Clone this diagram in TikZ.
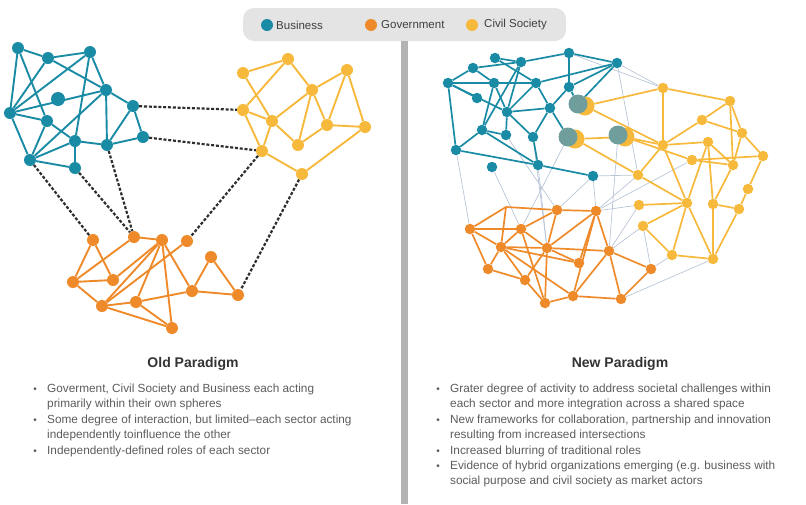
\documentclass[tikz,border=0pt]{standalone}
\usepackage{fontspec}
\setmainfont{Liberation Sans}
\usetikzlibrary{backgrounds}

\definecolor{busc}{HTML}{1A8BA5}
\definecolor{govc}{HTML}{EF8A2B}
\definecolor{civc}{HTML}{F6B93B}
\definecolor{hybc}{HTML}{6F9E9C}
\definecolor{linkc}{HTML}{2E2E2E}
\definecolor{faintc}{HTML}{BAC6D8}
\definecolor{barc}{HTML}{B3B3B3}
\definecolor{legc}{HTML}{E4E4E4}
\definecolor{textc}{HTML}{5C5C5C}

\tikzset{
  bus/.style={circle,fill=busc,inner sep=0pt,minimum size=12pt},
  gov/.style={circle,fill=govc,inner sep=0pt,minimum size=12pt},
  civ/.style={circle,fill=civc,inner sep=0pt,minimum size=12pt},
  hyb/.style={circle,fill=hybc,inner sep=0pt,minimum size=19pt},
  hybback/.style={circle,fill=civc,inner sep=0pt,minimum size=19pt},
  busline/.style={draw=busc,line width=1.9pt},
  govline/.style={draw=govc,line width=1.9pt},
  civline/.style={draw=civc,line width=1.9pt},
  link/.style={draw=linkc,line width=2.2pt,dash pattern=on 3pt off 1.8pt},
  faint/.style={draw=faintc,line width=0.7pt},
  item/.style={anchor=north west,align=left,inner sep=0pt,text=textc,
    font=\fontsize{11.8}{14.5}\selectfont},
  bul/.style={inner sep=0pt,text=textc,font=\fontsize{10}{12}\selectfont},
  title/.style={text=black!80,font=\fontsize{14}{16}\selectfont\bfseries},
  legtext/.style={anchor=west,inner sep=0pt,text=black!75,font=\fontsize{11.5}{13}\selectfont},
}

\begin{document}
\begin{tikzpicture}[x=1pt,y=-1pt]
\useasboundingbox (0,0) rectangle (806,504);

% legend and divider
\fill[legc,rounded corners=11pt] (243,8) rectangle (566,41);
\node[bus,minimum size=12pt] (legbus) at (267,25) {};
\node[legtext] at (276,25) {Business};
\node[gov,minimum size=12pt] (leggov) at (371,25) {};
\node[legtext] at (381,25) {Government};
\node[civ,minimum size=12pt] (legciv) at (472,25) {};
\node[legtext] at (484,25) {Civil Society};
\fill[barc] (401,41) rectangle (408,504);

% old paradigm
\node[bus] (b1) at (18,48) {};
\node[bus] (b2) at (48,58) {};
\node[bus] (b3) at (90,52) {};
\node[bus] (b4) at (106,90) {};
\node[bus,minimum size=14pt] (b5) at (58,99) {};
\node[bus] (b6) at (10,113) {};
\node[bus] (b7) at (47,121) {};
\node[bus] (b8) at (133,106) {};
\node[bus] (b9) at (75,141) {};
\node[bus] (b10) at (107,145) {};
\node[bus] (b11) at (143,137) {};
\node[bus] (b12) at (30,160) {};
\node[bus] (b13) at (75,168) {};

\node[civ] (c1) at (243,73) {};
\node[civ] (c2) at (288,59) {};
\node[civ] (c3) at (347,70) {};
\node[civ] (c4) at (312,90) {};
\node[civ] (c5) at (243,110) {};
\node[civ] (c6) at (272,121) {};
\node[civ] (c7) at (327,125) {};
\node[civ] (c8) at (365,127) {};
\node[civ] (c9) at (298,145) {};
\node[civ] (c10) at (262,151) {};
\node[civ] (c11) at (302,174) {};

\node[gov] (g1) at (93,240) {};
\node[gov] (g2) at (134,237) {};
\node[gov] (g3) at (162,240) {};
\node[gov] (g4) at (187,241) {};
\node[gov] (g5) at (211,257) {};
\node[gov] (g6) at (73,282) {};
\node[gov] (g7) at (113,280) {};
\node[gov] (g8) at (192,291) {};
\node[gov] (g9) at (238,295) {};
\node[gov] (g10) at (102,306) {};
\node[gov] (g11) at (136,302) {};
\node[gov] (g12) at (172,328) {};

\begin{scope}[on background layer]
\foreach \a/\b in {b1/b2,b1/b6,b1/b7,b2/b3,b2/b4,b2/b6,b3/b6,b3/b4,b3/b9,b4/b8,
    b4/b10,b4/b6,b6/b7,b6/b12,b7/b9,b7/b12,b8/b10,b8/b11,b9/b10,b10/b11,
    b9/b12,b9/b13,b12/b13,b4/b12}
  \draw[busline] (\a) -- (\b);
\foreach \a/\b in {c1/c2,c1/c6,c2/c5,c2/c4,c4/c3,c4/c6,c4/c9,c4/c7,c3/c7,c3/c8,
    c7/c8,c5/c6,c5/c10,c6/c10,c6/c9,c9/c7,c8/c11,c10/c11}
  \draw[civline] (\a) -- (\b);
\foreach \a/\b in {g1/g6,g1/g7,g6/g7,g6/g2,g2/g3,g7/g3,g3/g10,g3/g11,g3/g8,g3/g12,
    g4/g10,g10/g11,g10/g12,g11/g12,g11/g8,g8/g9,g5/g8,g5/g9,g6/g10}
  \draw[govline] (\a) -- (\b);
\foreach \a/\b in {b8/c5,b11/c10,b12/g1,b13/g2,b10/g2,c10/g4,c11/g9}
  \draw[link] (\a) -- (\b);
\end{scope}

% new paradigm
\begin{scope}[bus/.append style={minimum size=10.5pt},gov/.append style={minimum size=10.5pt},
    civ/.append style={minimum size=10.5pt}]
\node[bus] (rb1) at (495,58) {};
\node[bus] (rb2) at (521,62) {};
\node[bus] (rb3) at (569,53) {};
\node[bus] (rb4) at (617,63) {};
\node[bus] (rb5) at (473,68) {};
\node[bus] (rb6) at (448,83) {};
\node[bus] (rb7) at (494,83) {};
\node[bus] (rb8) at (536,83) {};
\node[bus] (rb9) at (569,87) {};
\node[bus] (rb10) at (477,98) {};
\node[bus] (rb11) at (507,112) {};
\node[bus] (rb12) at (550,108) {};
\node[bus] (rb13) at (482,130) {};
\node[bus] (rb14) at (506,135) {};
\node[bus] (rb15) at (533,137) {};
\node[bus] (rb16) at (456,150) {};
\node[bus] (rb17) at (492,167) {};
\node[bus] (rb18) at (538,165) {};
\node[bus] (rb19) at (593,176) {};

\node[hybback] (h1y) at (585,106) {};
\node[hyb] (h1) at (578,104) {};
\node[hybback] (h2y) at (575,139) {};
\node[hyb] (h2) at (568,137) {};
\node[hybback] (h3y) at (625,137) {};
\node[hyb] (h3) at (618,135) {};

\node[civ] (rc1) at (663,88) {};
\node[civ] (rc2) at (730,101) {};
\node[civ] (rc3) at (702,120) {};
\node[civ] (rc4) at (742,133) {};
\node[civ] (rc5) at (663,145) {};
\node[civ] (rc6) at (708,142) {};
\node[civ] (rc7) at (763,156) {};
\node[civ] (rc8) at (692,160) {};
\node[civ] (rc9) at (733,165) {};
\node[civ] (rc10) at (638,175) {};
\node[civ] (rc11) at (748,189) {};
\node[civ] (rc12) at (639,205) {};
\node[civ] (rc13) at (687,203) {};
\node[civ] (rc14) at (713,204) {};
\node[civ] (rc15) at (739,209) {};
\node[civ] (rc16) at (643,226) {};
\node[civ] (rc17) at (672,255) {};
\node[civ] (rc18) at (713,259) {};

\coordinate (rg0) at (506,207);
\node[gov] (rg1) at (557,210) {};
\node[gov] (rg2) at (596,211) {};
\node[gov] (rg3) at (470,229) {};
\node[gov] (rg4) at (521,229) {};
\node[gov] (rg5) at (501,247) {};
\node[gov] (rg6) at (547,248) {};
\node[gov] (rg7) at (609,251) {};
\node[gov] (rg8) at (579,263) {};
\node[gov] (rg9) at (488,269) {};
\node[gov] (rg10) at (651,269) {};
\node[gov] (rg11) at (525,280) {};
\node[gov] (rg12) at (573,296) {};
\node[gov] (rg13) at (545,303) {};
\node[gov] (rg14) at (621,299) {};
\end{scope}

\begin{scope}[on background layer]
\foreach \a/\b in {rb16/rg3,rb17/rg4,rb18/rg6,rb19/rg1,rb19/rg2,rb19/rc10,rb4/rc1,
    rb4/rc10,rb3/rc1,h2/rg4,rb15/rg6,rc10/rg2,rc12/rg2,rc12/rg7,rc16/rg7,
    rc16/rg10,rc17/rg10,rg14/rc18,h3/rg7,rb14/rg1,rc8/rg2}
  \draw[faint] (\a) -- (\b);
\foreach \a/\b in {rb1/rb2,rb1/rb8,rb2/rb3,rb3/rb4,rb3/rb9,rb4/rb8,rb4/rb9,rb4/h1,
    rb5/rb6,rb5/rb7,rb5/rb2,rb6/rb7,rb6/rb10,rb6/rb16,rb6/rb11,rb7/rb8,rb7/rb13,
    rb7/rb11,rb2/rb11,rb2/rb13,rb8/rb11,rb8/rb12,rb9/rb12,rb11/rb12,rb12/rb15,
    rb12/h2,rb11/rb14,rb13/rb16,rb13/rb14,rb13/rb18,rb16/rb18,rb15/rb18,
    rb18/rb19,rb11/rb15,rb9/h1}
  \draw[busline,line width=1.7pt] (\a) -- (\b);
\foreach \a/\b in {h1y/rc1,h1y/rc5,h2y/h3y,h3y/rc5,h3y/rc8,h2y/rc10,rc1/rc2,rc1/rc5,
    rc2/rc3,rc3/rc5,rc3/rc4,rc2/rc4,rc2/rc9,rc4/rc7,rc4/rc9,rc5/rc6,rc5/rc13,
    rc5/rc10,rc6/rc9,rc6/rc13,rc6/rc14,rc8/rc9,rc8/rc7,rc7/rc11,rc9/rc14,
    rc11/rc15,rc14/rc15,rc13/rc12,rc13/rc16,rc13/rc10,rc13/rc17,rc14/rc18,
    rc15/rc18,rc17/rc18,rc16/rc17,rc13/rc18}
  \draw[civline,line width=1.7pt] (\a) -- (\b);
\foreach \a/\b in {rg0/rg1,rg0/rg3,rg0/rg5,rg1/rg2,rg1/rg4,rg1/rg6,rg2/rg6,rg2/rg7,
    rg2/rg12,rg2/rg8,rg3/rg4,rg3/rg5,rg3/rg9,rg4/rg5,rg4/rg6,rg5/rg6,rg5/rg9,
    rg5/rg11,rg5/rg12,rg5/rg8,rg6/rg7,rg6/rg8,rg6/rg11,rg7/rg10,rg7/rg12,
    rg7/rg14,rg9/rg11,rg11/rg13,rg12/rg13,rg12/rg14,rg10/rg14,rg4/rg13,rg6/rg13}
  \draw[govline,line width=1.7pt] (\a) -- (\b);
\end{scope}

% texts
\node[title] (oldt) at (193,364) {Old Paradigm};
\node[title] (newt) at (620,364) {New Paradigm};

\node[bul] at (35,390) {•};
\node[item] (o1) at (47,384) {Goverment, Civil Society and Business each acting\\primarily within their own spheres};
\node[bul] at (35,421) {•};
\node[item] (o2) at (47,415) {Some degree of interaction, but limited--each sector acting\\independently toinfluence the other};
\node[bul] at (35,452) {•};
\node[item] (o3) at (47,446) {Independently-defined roles of each sector};

\node[bul] at (438,390) {•};
\node[item] (n1) at (450,384) {Grater degree of activity to address societal challenges within\\each sector and more integration across a shared space};
\node[bul] at (438,421) {•};
\node[item] (n2) at (450,415) {New frameworks for collaboration, partnership and innovation\\resulting from increased intersections};
\node[bul] at (438,452) {•};
\node[item] (n3) at (450,446) {Increased blurring of traditional roles};
\node[bul] at (438,467) {•};
\node[item] (n4) at (450,461) {Evidence of hybrid organizations emerging (e.g. business with\\social purpose and civil society as market actors};
\end{tikzpicture}
\end{document}
